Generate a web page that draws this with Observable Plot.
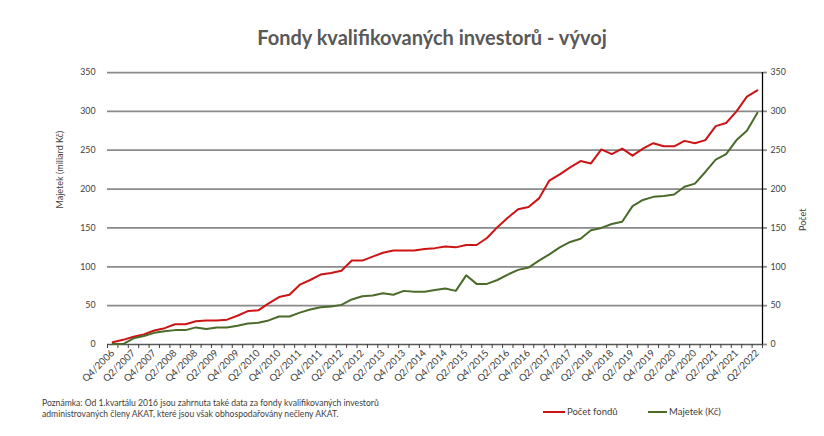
<!DOCTYPE html>
<html>
<head>
<meta charset="utf-8">
<script src="https://cdn.jsdelivr.net/npm/d3@7"></script>
<script src="https://cdn.jsdelivr.net/npm/@observablehq/plot@0.6"></script>
<style>
  body { margin: 0; background: #fff; font-family: Lato, "Open Sans", sans-serif; }
  #wrap { position: relative; width: 824px; height: 436px; overflow: hidden; }
  #chart { position: absolute; left: 0; top: 0; }
  #title { position: absolute; left: 0; width: 864px; top: 26px; text-align: center; font-weight: bold; font-size: 20px; line-height: 23px; color: #595959; }
  #note { position: absolute; left: 42px; top: 398px; font-size: 8.6px; line-height: 11px; color: #404040; white-space: nowrap; }
  .lg { position: absolute; height: 2px; top: 411px; }
  .lt { position: absolute; top: 405px; font-size: 9.5px; line-height: 13px; color: #404040; white-space: nowrap; }
</style>
</head>
<body>
<div id="wrap">
  <div id="title">Fondy kvalifikovaných investorů - vývoj</div>
  <div id="chart"></div>
  <div id="note">Poznámka: Od 1.kvartálu 2016 jsou zahrnuta také data za fondy kvalifikovaných investorů<br>administrovaných členy AKAT, které jsou však obhospodařovány nečleny AKAT.</div>
  <div class="lg" style="left:543px;width:22px;background:#cc1414"></div>
  <div class="lt" style="left:567px">Počet fondů</div>
  <div class="lg" style="left:648px;width:19px;background:#4b6b2a"></div>
  <div class="lt" style="left:669px">Majetek (Kč)</div>
</div>
<script>
const quarters = [
  "Q4/2006",
  "Q1/2007","Q2/2007","Q3/2007","Q4/2007",
  "Q1/2008","Q2/2008","Q3/2008","Q4/2008",
  "Q1/2009","Q2/2009","Q3/2009","Q4/2009",
  "Q1/2010","Q2/2010","Q3/2010","Q4/2010",
  "Q1/2011","Q2/2011","Q3/2011","Q4/2011",
  "Q1/2012","Q2/2012","Q3/2012","Q4/2012",
  "Q1/2013","Q2/2013","Q3/2013","Q4/2013",
  "Q1/2014","Q2/2014","Q3/2014","Q4/2014",
  "Q1/2015","Q2/2015","Q3/2015","Q4/2015",
  "Q1/2016","Q2/2016","Q3/2016","Q4/2016",
  "Q1/2017","Q2/2017","Q3/2017","Q4/2017",
  "Q1/2018","Q2/2018","Q3/2018","Q4/2018",
  "Q1/2019","Q2/2019","Q3/2019","Q4/2019",
  "Q1/2020","Q2/2020","Q3/2020","Q4/2020",
  "Q1/2021","Q2/2021","Q3/2021","Q4/2021",
  "Q1/2022","Q2/2022"
];
// Počet fondů (right axis)
const pocetFondu = [
  3, 6, 10, 13, 18, 21, 26, 26, 30, 31, 31, 32, 37, 43, 44, 53, 61, 64, 77, 83, 90,
  92, 95, 108, 108, 113, 118, 121, 121, 121, 123, 124, 126, 125, 128, 128, 137, 151,
  163, 174, 177, 188, 211, 219, 228, 236, 233, 251, 245, 252, 243, 252, 259, 255, 255,
  262, 259, 263, 281, 285, 300, 319, 327
];
// Majetek, miliard Kč (left axis)
const majetek = [
  0.5, 0.5, 8, 11, 15, 17, 18.5, 18.5, 22, 20, 22, 22, 24, 27, 28, 31, 36, 36, 41, 45, 48,
  49, 51, 58, 62, 63, 66, 64, 69, 68, 68, 70, 72, 69, 89, 78, 78, 83, 90, 96, 99, 108,
  116, 125, 132, 136, 147, 150, 155, 158, 178, 186, 190, 191, 193, 203, 207, 222, 238,
  245, 263, 275, 298
];
const yTicks = [0, 50, 100, 150, 200, 250, 300, 350];

const red = "#cc1414", green = "#4b6b2a";
const n = quarters.length;
const labelIdx = quarters.map((d, i) => i).filter(i => i % 2 === 0);
const bounds = d3.range(n + 1).map(i => i - 0.5);

const chart = Plot.plot({
  width: 824,
  height: 436,
  marginLeft: 107,
  marginRight: 62,
  marginTop: 72,
  marginBottom: 92,
  style: { fontFamily: "Lato, 'Open Sans', sans-serif", color: "#404040", background: "transparent" },
  x: { domain: [-0.5, n - 0.5], axis: null },
  y: { domain: [0, 350], axis: null },
  marks: [
    Plot.ruleY(yTicks.filter(d => d > 0), { stroke: "#8a8a8a", strokeWidth: 1.75 }),
    Plot.axisY(yTicks, { anchor: "left", tickSize: 0, tickPadding: 12, fontSize: 8.8, label: null }),
    Plot.axisY(yTicks, { anchor: "right", tickSize: 4, tickPadding: 4, stroke: "#8a8a8a", strokeWidth: 1.75, fontSize: 8.8, label: null }),
    Plot.ruleX([n - 0.5], { stroke: "#000", strokeWidth: 1.25 }),
    Plot.ruleY([0], { stroke: "#595959", strokeWidth: 1.5 }),
    Plot.axisX(bounds, { tickSize: 4, tickFormat: () => "", stroke: "#404040", label: null }),
    Plot.axisX(labelIdx, { tickSize: 0, tickRotate: -45, tickPadding: 7, tickFormat: i => quarters[i], fontSize: 9.8, label: null }),
    Plot.line(pocetFondu, { x: (d, i) => i, y: d => d, stroke: red, strokeWidth: 2 }),
    Plot.line(majetek, { x: (d, i) => i, y: d => d, stroke: green, strokeWidth: 2 }),
    Plot.text(["Majetek (miliard Kč)"], { frameAnchor: "left", dx: -47, rotate: -90, fontSize: 9, fill: "#404040" }),
    Plot.text(["Počet"], { frameAnchor: "right", dx: 41, rotate: -90, fontSize: 9, fill: "#404040" })
  ]
});
document.getElementById("chart").appendChild(chart);
</script>
</body>
</html>
